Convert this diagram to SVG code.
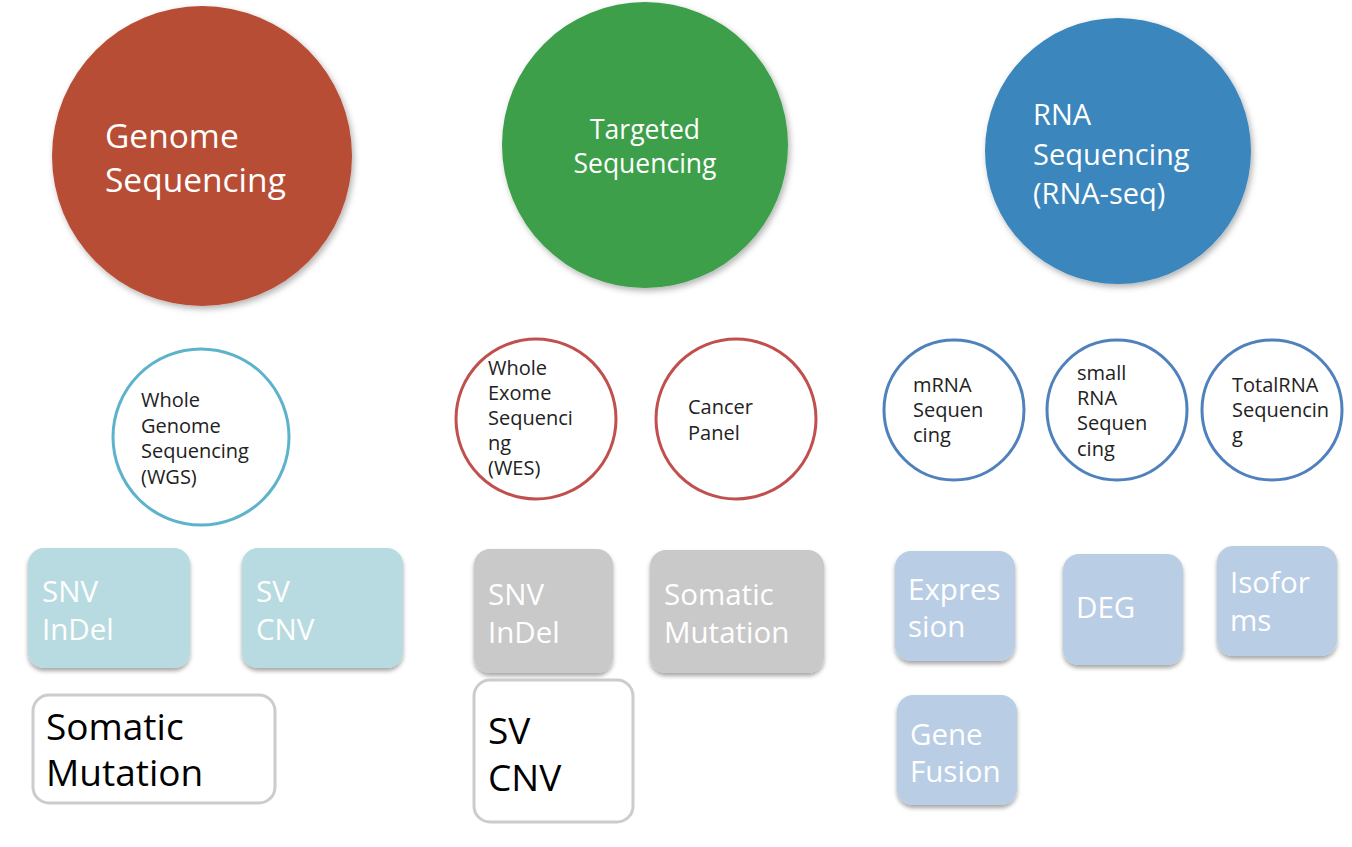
<svg xmlns="http://www.w3.org/2000/svg" width="1352" height="847" viewBox="0 0 1352 847">
<style>
  text { font-family: "Open Sans", "Noto Sans", sans-serif; }
  .big { fill: #ffffff; }
  .ring { fill: #ffffff; stroke-width: 3; }
  .small { font-size: 20px; fill: #222222; }
  .boxtxt { font-size: 29.5px; fill: #ffffff; }
  .wbox { fill: #ffffff; stroke: #cccccc; stroke-width: 3; }
  .wtxt { font-size: 37px; fill: #000000; }
</style>
<defs>
  <filter id="sh" x="-10%" y="-10%" width="120%" height="130%">
    <feDropShadow dx="0" dy="3" stdDeviation="2" flood-color="#000000" flood-opacity="0.35"/>
  </filter>
  <filter id="csh" x="-10%" y="-10%" width="120%" height="120%">
    <feDropShadow dx="2" dy="3" stdDeviation="3" flood-color="#000000" flood-opacity="0.3"/>
  </filter>
</defs>
<rect width="1352" height="847" fill="#ffffff"/>

<g id="genome-seq">
  <circle cx="202" cy="156" r="150" fill="#b84d35" filter="url(#csh)"/>
  <text class="big" x="105" y="148" font-size="33.5">Genome</text>
  <text class="big" x="105" y="192" font-size="33.5">Sequencing</text>
</g>
<g id="targeted-seq">
  <circle cx="645" cy="145" r="143" fill="#3c9f49" filter="url(#csh)"/>
  <text class="big" x="645" y="139" font-size="26.5" text-anchor="middle">Targeted</text>
  <text class="big" x="645" y="173" font-size="26.5" text-anchor="middle">Sequencing</text>
</g>
<g id="rna-seq">
  <circle cx="1118" cy="151" r="133" fill="#3a86bd" filter="url(#csh)"/>
  <text class="big" x="1033" y="125" font-size="29">RNA</text>
  <text class="big" x="1033" y="164.5" font-size="29">Sequencing</text>
  <text class="big" x="1033" y="204" font-size="29">(RNA-seq)</text>
</g>

<g id="wgs">
  <circle class="ring" cx="201" cy="437" r="88" stroke="#5cb3cb"/>
  <text class="small" x="141" y="407">Whole</text>
  <text class="small" x="141" y="433">Genome</text>
  <text class="small" x="141" y="458">Sequencing</text>
  <text class="small" x="141" y="484">(WGS)</text>
</g>
<g id="wes">
  <circle class="ring" cx="536" cy="419" r="80" stroke="#c0504d"/>
  <text class="small" x="488" y="375">Whole</text>
  <text class="small" x="488" y="400">Exome</text>
  <text class="small" x="488" y="425">Sequenci</text>
  <text class="small" x="488" y="450">ng</text>
  <text class="small" x="488" y="475">(WES)</text>
</g>
<g id="cancer-panel">
  <circle class="ring" cx="736" cy="419" r="80" stroke="#c0504d"/>
  <text class="small" x="688" y="414">Cancer</text>
  <text class="small" x="688" y="440">Panel</text>
</g>
<g id="mrna">
  <circle class="ring" cx="954" cy="410" r="70" stroke="#4f81bd"/>
  <text class="small" x="913" y="392">mRNA</text>
  <text class="small" x="913" y="417">Sequen</text>
  <text class="small" x="913" y="442">cing</text>
</g>
<g id="small-rna">
  <circle class="ring" cx="1117" cy="410" r="70" stroke="#4f81bd"/>
  <text class="small" x="1077" y="380">small</text>
  <text class="small" x="1077" y="405">RNA</text>
  <text class="small" x="1077" y="430">Sequen</text>
  <text class="small" x="1077" y="456">cing</text>
</g>
<g id="total-rna">
  <circle class="ring" cx="1272" cy="410" r="70" stroke="#4f81bd"/>
  <text class="small" x="1232" y="392">TotalRNA</text>
  <text class="small" x="1232" y="417">Sequencin</text>
  <text class="small" x="1232" y="442">g</text>
</g>

<g id="wgs-snv">
  <rect x="28" y="548" width="162" height="120" rx="16" fill="#b7dbe0" filter="url(#sh)"/>
  <text class="boxtxt" x="42" y="602">SNV</text>
  <text class="boxtxt" x="42" y="640">InDel</text>
</g>
<g id="wgs-sv">
  <rect x="242" y="548" width="161" height="120" rx="16" fill="#b7dbe0" filter="url(#sh)"/>
  <text class="boxtxt" x="256" y="602">SV</text>
  <text class="boxtxt" x="256" y="640">CNV</text>
</g>
<g id="wgs-somatic">
  <rect class="wbox" x="33" y="695" width="242" height="108" rx="16"/>
  <text class="wtxt" x="46" y="740">Somatic</text>
  <text class="wtxt" x="46" y="786">Mutation</text>
</g>

<g id="ts-snv">
  <rect x="474" y="549" width="139" height="124" rx="16" fill="#c9c9c9" filter="url(#sh)"/>
  <text class="boxtxt" x="488" y="605">SNV</text>
  <text class="boxtxt" x="488" y="643">InDel</text>
</g>
<g id="ts-somatic">
  <rect x="650" y="550" width="174" height="123" rx="16" fill="#c9c9c9" filter="url(#sh)"/>
  <text class="boxtxt" x="664" y="605">Somatic</text>
  <text class="boxtxt" x="664" y="643">Mutation</text>
</g>
<g id="ts-sv">
  <rect class="wbox" x="474" y="680" width="159" height="142" rx="16"/>
  <text class="wtxt" x="488" y="744" font-size="40">SV</text>
  <text class="wtxt" x="488" y="791" font-size="40">CNV</text>
</g>

<g id="rna-expression">
  <rect x="895" y="551" width="120" height="110" rx="16" fill="#b9cde5" filter="url(#sh)"/>
  <text class="boxtxt" x="908" y="600">Expres</text>
  <text class="boxtxt" x="908" y="637">sion</text>
</g>
<g id="rna-deg">
  <rect x="1063" y="554" width="120" height="111" rx="16" fill="#b9cde5" filter="url(#sh)"/>
  <text class="boxtxt" x="1076" y="618">DEG</text>
</g>
<g id="rna-isoforms">
  <rect x="1217" y="546" width="120" height="110" rx="16" fill="#b9cde5" filter="url(#sh)"/>
  <text class="boxtxt" x="1230" y="593">Isofor</text>
  <text class="boxtxt" x="1230" y="631">ms</text>
</g>
<g id="rna-fusion">
  <rect x="897" y="695" width="120" height="110" rx="16" fill="#b9cde5" filter="url(#sh)"/>
  <text class="boxtxt" x="910" y="745">Gene</text>
  <text class="boxtxt" x="910" y="782">Fusion</text>
</g>

<g id="connectors"></g>
</svg>
